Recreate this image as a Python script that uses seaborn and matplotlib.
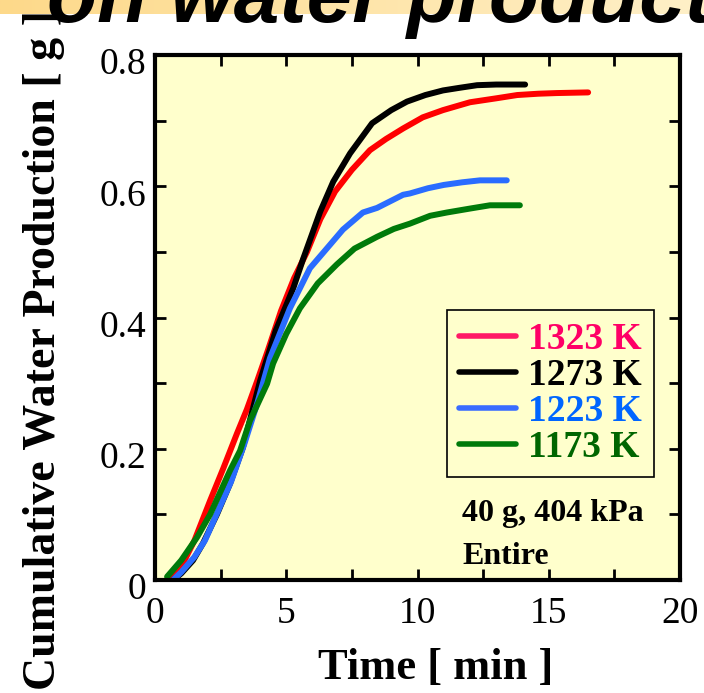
import numpy as np
import pandas as pd
import matplotlib
matplotlib.use("Agg")
import matplotlib.pyplot as plt
import matplotlib.transforms as mtransforms
import seaborn as sns
from matplotlib.ticker import MultipleLocator

# cumulative water production (time [min], water [g])
t_1323 = [0.6, 1.0, 1.5, 2.1, 2.6, 3.12, 3.5, 3.89, 4.3, 4.8, 5.3, 5.79, 6.3, 6.86, 7.5, 8.19,
          8.8, 9.45, 10.2, 10.97, 12.0, 13.0, 13.8, 14.6, 15.3, 16.5]
w_1323 = [0.0, 0.02, 0.06, 0.121, 0.17, 0.223, 0.26, 0.303, 0.35, 0.41, 0.46, 0.50, 0.55, 0.592,
          0.625, 0.655, 0.672, 0.688, 0.705, 0.716, 0.728, 0.734, 0.739, 0.741, 0.742, 0.743]

t_1273 = [0.69, 1.0, 1.45, 1.83, 2.36, 2.86, 3.35, 4.0, 4.6, 5.27, 5.65, 6.29, 6.79, 7.43, 8.27,
          9.0, 9.6, 10.3, 10.97, 11.6, 12.27, 13.0, 14.1]
w_1273 = [0.0, 0.01, 0.03, 0.056, 0.10, 0.147, 0.202, 0.303, 0.38, 0.445, 0.49, 0.561, 0.607,
          0.650, 0.696, 0.716, 0.729, 0.739, 0.746, 0.750, 0.754, 0.755, 0.755]

t_1223 = [0.69, 1.0, 1.5, 1.9, 2.4, 2.9, 3.4, 3.9, 4.38, 5.14, 5.9, 6.67, 7.16, 7.92, 8.46,
          9.45, 9.71, 10.4, 11.0, 11.7, 12.38, 13.4]
w_1223 = [0.0, 0.012, 0.035, 0.06, 0.105, 0.15, 0.207, 0.27, 0.338, 0.414, 0.475, 0.511, 0.534,
          0.56, 0.567, 0.587, 0.589, 0.597, 0.602, 0.606, 0.609, 0.609]

t_1173 = [0.46, 1.0, 1.6, 2.1, 2.86, 3.24, 3.62, 4.27, 4.5, 5.0, 5.52, 6.2, 6.93, 7.6, 8.46,
          9.1, 9.71, 10.48, 11.12, 12.0, 12.76, 13.9]
w_1173 = [0.005, 0.03, 0.065, 0.10, 0.167, 0.197, 0.243, 0.299, 0.33, 0.375, 0.414, 0.452,
          0.481, 0.505, 0.523, 0.535, 0.543, 0.555, 0.56, 0.566, 0.571, 0.571]

labels = ["1323 K", "1273 K", "1223 K", "1173 K"]
line_colors = ["#ff0000", "#000000", "#2a6cff", "#007a0a"]
handle_colors = ["#ff1a66", "#000000", "#3a6cff", "#007a0a"]
text_colors = ["#ff0066", "#000000", "#0066ff", "#006600"]

frames = []
for lab, t, w in zip(labels, [t_1323, t_1273, t_1223, t_1173], [w_1323, w_1273, w_1223, w_1173]):
    frames.append(pd.DataFrame({"Time": t, "Water": w, "Temp": lab}))
df = pd.concat(frames, ignore_index=True)

sns.set_theme(style="ticks")
plt.rcParams.update({"text.color": "black", "axes.labelcolor": "black",
                     "xtick.color": "black", "ytick.color": "black"})
serif = ["Liberation Serif", "DejaVu Serif"]

W, H = 704, 693
fig = plt.figure(figsize=(W / 100, H / 100), dpi=100)
fig.patch.set_facecolor("white")

# pale orange band at very top (slide background)
band = fig.add_axes([0, 1 - 14 / H, 1, 14 / H])
grad = np.linspace(0, 1, 256).reshape(1, -1)
band.imshow(grad, aspect="auto", cmap=matplotlib.colors.LinearSegmentedColormap.from_list(
    "b", ["#fdd98a", "#fff0c8"]), extent=[0, 1, 0, 1])
band.set_axis_off()

fig.text(47 / W, 1 - 22 / H, "on water product", family=["Liberation Sans", "DejaVu Sans"],
         weight="bold", style="italic", fontsize=59, ha="left", va="baseline")

ax = fig.add_axes([155 / W, 1 - 580 / H, 525 / W, 525 / H])
ax.set_facecolor("#ffffcc")

sns.lineplot(data=df, x="Time", y="Water", hue="Temp", palette=line_colors, linewidth=4.3,
             ax=ax, sort=False, estimator=None)
ax.set_xlim(0, 20)
ax.set_ylim(0, 0.8)
ax.xaxis.set_major_locator(MultipleLocator(5))
ax.xaxis.set_minor_locator(MultipleLocator(2.5))
ax.yaxis.set_minor_locator(MultipleLocator(0.1))
ax.set_yticks([0, 0.2, 0.4, 0.6, 0.8])
ax.set_yticklabels(["0", "0.2", "0.4", "0.6", "0.8"])
ax.tick_params(which="both", direction="in", top=True, right=True, length=8, width=2,
               color="black")
ax.tick_params(axis="x", which="major", labelsize=27, pad=12)
ax.tick_params(axis="y", which="major", labelsize=27, pad=6)
for lab in ax.get_xticklabels() + ax.get_yticklabels():
    lab.set_family(serif)
# y tick labels sit a little below their ticks in the reference
shift = mtransforms.ScaledTranslation(0, -0.06, fig.dpi_scale_trans)
for lab in ax.get_yticklabels():
    lab.set_transform(lab.get_transform() + shift)
for sp in ax.spines.values():
    sp.set_linewidth(3)
    sp.set_color("black")

ax.set_xlabel("")
ax.set_ylabel("")
fig.text(436 / W, 1 - 668 / H, "Time [ min ]", family=serif, weight="bold", fontsize=32,
         ha="center", va="center")
fig.text(44 / W, 1 - 690 / H, "Cumulative Water Production [ g ]", family=serif,
         weight="bold", fontsize=33, rotation=90, ha="center", va="bottom")

leg = ax.legend(loc="upper left", bbox_to_anchor=(447 / W, 1 - 310 / H),
                bbox_transform=fig.transFigure, frameon=True, fancybox=False,
                borderaxespad=0, prop={"family": serif, "weight": "bold", "size": 27},
                handlelength=1.5, handletextpad=0.32, labelspacing=0.02, borderpad=0.33)
leg.get_frame().set_edgecolor("black")
leg.get_frame().set_linewidth(1.2)
leg.get_frame().set_facecolor("#ffffcc")
leg.get_frame().set_alpha(1)
for txt, c in zip(leg.get_texts(), text_colors):
    txt.set_color(c)
for h, c in zip(leg.get_lines(), handle_colors):
    h.set_color(c)
    h.set_linewidth(4)

fig.text(462 / W, 1 - 513 / H, "40 g, 404 kPa", family=serif, weight="bold", fontsize=23,
         va="center", ha="left")
fig.text(462 / W, 1 - 556 / H, "Entire", family=serif, weight="bold", fontsize=23,
         va="center", ha="left")

fig.savefig("out.png", dpi=100)
